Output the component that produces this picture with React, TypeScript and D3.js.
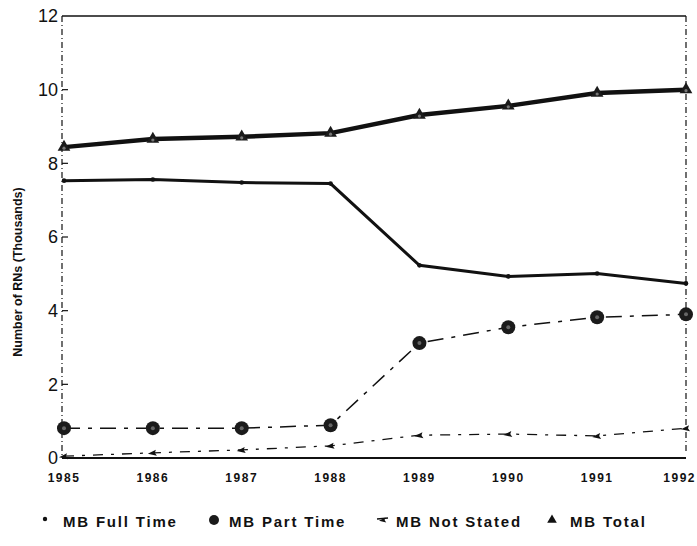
import React from "react";
import * as d3 from "d3";

const years = ["1985", "1986", "1987", "1988", "1989", "1990", "1991", "1992"];
const fullTime = [7.53, 7.56, 7.48, 7.45, 5.23, 4.93, 5.01, 4.74];
const partTime = [0.81, 0.81, 0.81, 0.89, 3.12, 3.55, 3.82, 3.9];
const notStated = [0.05, 0.14, 0.22, 0.33, 0.62, 0.65, 0.6, 0.81];
const total = [8.44, 8.66, 8.72, 8.82, 9.31, 9.56, 9.91, 10.0];
const yTicks = [0, 2, 4, 6, 8, 10, 12];

const W = 697;
const H = 546;
const left = 64;
const right = 686;
const top = 16;
const bottom = 458;
const ink = "#111";

export default function App() {
  const x = d3.scalePoint<string>().domain(years).range([left, right]);
  const y = d3.scaleLinear().domain([0, 12]).range([bottom, top]);
  const line = d3
    .line<number>()
    .x((_, i) => x(years[i]) as number)
    .y((d) => y(d));
  const tri = d3.symbol(d3.symbolTriangle, 70)();
  const triSmall = d3.symbol(d3.symbolTriangle, 40)();
  const arrow = "M-5,1 L3,-3 L2,0 L4,3 Z";

  return (
    <svg
      width={W}
      height={H}
      style={{ position: "absolute", left: 0, top: 0, background: "#fff" }}
      fontFamily="'Liberation Sans', Arial, sans-serif"
    >
      {/* frame */}
      <line x1={left - 2} x2={right} y1={top} y2={top} stroke={ink} strokeWidth={1.5} />
      <line x1={left - 2} x2={left - 2} y1={top} y2={bottom} stroke={ink} strokeWidth={1.2} strokeDasharray="6 3 1 3" />
      <line x1={right} x2={right} y1={top} y2={bottom - 6} stroke={ink} strokeWidth={1.2} strokeDasharray="6 3 1 3" />
      <line x1={left - 2} x2={right} y1={bottom} y2={bottom} stroke={ink} strokeWidth={2} />

      {/* y ticks and labels */}
      {yTicks.map((t) => (
        <g key={t}>
          {t > 0 && t < 12 && (
            <line x1={left - 2} x2={left + 4} y1={y(t)} y2={y(t)} stroke={ink} strokeWidth={1.2} />
          )}
          <text x={left - 6} y={y(t)} dy="0.36em" textAnchor="end" fontSize={18} fill={ink}>
            {t}
          </text>
        </g>
      ))}
      <text
        transform={`translate(22,${(top + bottom) / 2 + 35}) rotate(-90)`}
        textAnchor="middle"
        fontSize={12.5}
        fontWeight="bold"
        fill={ink}
      >
        Number of RNs (Thousands)
      </text>

      {/* x labels */}
      {years.map((yr, i) => {
        const last = i === years.length - 1;
        return (
          <text
            key={yr}
            x={last ? W - 1 : x(yr)}
            y={bottom + 24}
            textAnchor={last ? "end" : "middle"}
            fontSize={12}
            fontWeight="bold"
            letterSpacing={1.5}
            fill={ink}
          >
            {yr}
          </text>
        );
      })}

      {/* series lines */}
      <path d={line(notStated) ?? ""} fill="none" stroke={ink} strokeWidth={1.3} strokeDasharray="10 8 3 8" />
      <path d={line(partTime) ?? ""} fill="none" stroke={ink} strokeWidth={1.5} strokeDasharray="16 8 4 8" />
      <path d={line(fullTime) ?? ""} fill="none" stroke={ink} strokeWidth={3} />
      <path d={line(total) ?? ""} fill="none" stroke={ink} strokeWidth={4.5} />

      {/* markers */}
      {fullTime.map((v, i) => (
        <circle key={"f" + i} cx={x(years[i])} cy={y(v)} r={2.3} fill={ink} />
      ))}
      {partTime.map((v, i) => (
        <g key={"p" + i} transform={`translate(${x(years[i])},${y(v)})`}>
          <circle r={7} fill="#1b1b1b" />
          <circle r={2} fill="#666" />
        </g>
      ))}
      {notStated.map((v, i) => (
        <path key={"n" + i} d={arrow} transform={`translate(${x(years[i])},${y(v)})`} fill={ink} />
      ))}
      {total.map((v, i) => (
        <g key={"t" + i} transform={`translate(${x(years[i])},${y(v)})`}>
          <path d={tri} fill="#1b1b1b" />
          <circle r={1.6} cy={1} fill="#777" />
        </g>
      ))}

      {/* legend */}
      <g fontSize={15} fontWeight="bold" letterSpacing={1.8} fill={ink}>
        <circle cx={45} cy={519} r={2.2} fill={ink} />
        <text x={63} y={527}>MB Full Time</text>
        <circle cx={214} cy={520} r={5} fill="#1b1b1b" />
        <text x={229} y={527}>MB Part Time</text>
        <line x1={377} x2={388} y1={519} y2={518} stroke={ink} strokeWidth={1.5} />
        <path d={arrow} transform="translate(383,520) scale(0.8)" fill={ink} />
        <text x={396} y={527}>MB Not Stated</text>
        <path d={triSmall} transform="translate(552,520)" fill={ink} />
        <text x={570} y={527}>MB Total</text>
      </g>
    </svg>
  );
}
